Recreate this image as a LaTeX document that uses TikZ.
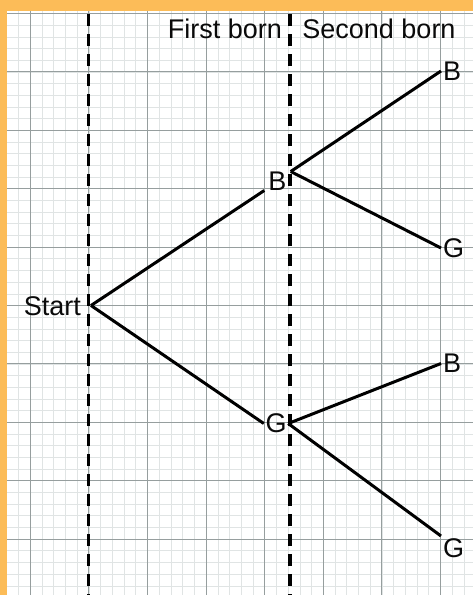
\documentclass[tikz,border=0pt]{standalone}
\usepackage{fontspec}
\setmainfont{Liberation Sans}
\usetikzlibrary{positioning}
\definecolor{frameorange}{RGB}{252,188,88}
\definecolor{gridmajor}{RGB}{150,158,158}
\definecolor{gridminor}{RGB}{224,228,228}
\definecolor{inkgray}{RGB}{10,10,10}

\begin{document}
\begin{tikzpicture}[x=1pt, y=-1pt, every node/.style={font=\fontsize{27}{31}\selectfont, text=inkgray}]
  \tikzset{
    lbl/.style={inner sep=2pt},
    branch/.style={line width=3pt},
    divider/.style={line width=3.2pt, dash pattern=on 12pt off 8pt},
    minorline/.style={gridminor, line width=0.6pt},
    majorline/.style={gridmajor, line width=0.9pt}
  }
  \useasboundingbox (0,0) rectangle (473,595);

  % Paper and orange frame
  \fill[frameorange] (0,0) rectangle (473,595);
  \fill[white] (7,11) rectangle (473,595);

  % Grid paper
  \foreach \i in {-1,...,37}
    \draw[minorline] ({30.3+11.72*\i},11) -- ({30.3+11.72*\i},595);
  \foreach \j in {0,...,49}
    \draw[minorline] (7,{13.5+11.68*\j}) -- (473,{13.5+11.68*\j});
  \foreach \i in {0,...,7}
    \draw[majorline] ({30.3+58.6*\i},11) -- ({30.3+58.6*\i},595);
  \foreach \j in {0,...,9}
    \draw[majorline] (7,{13.5+58.4*\j}) -- (473,{13.5+58.4*\j});

  % Column headings and dividers
  \node[anchor=base] (first) at (225,38) {First born};
  \node[anchor=base] (second) at (379,38) {Second born};
  \draw[divider] (88.5,14) -- (88.5,595);
  \draw[divider] (290,14) -- (290,595);

  % Tree
  \coordinate (root) at (91,305.5);
  \node[anchor=base east, inner sep=0pt] (start) at (81,315) {Start};

  \node[lbl, inner xsep=4pt, inner ysep=0pt] (b1) at (277.5,181) {B};
  \node[lbl, inner xsep=1.5pt] (g1) at (276,423.5) {G};

  \node[lbl, anchor=west] (bb) at (441,71) {B};
  \node[lbl, anchor=west] (bg) at (441,248) {G};
  \node[lbl, anchor=west] (gb) at (441,363.5) {B};
  \node[lbl, anchor=north west] (gg) at (441,536) {G};

  \draw[branch] (root) -- (b1.south west);
  \draw[branch] (root) -- (g1.west);
  \draw[branch] (b1.north east) -- (bb.west);
  \draw[branch] (b1.north east) -- (bg.west);
  \draw[branch] (g1.east) -- (gb.west);
  \draw[branch] (g1.east) -- (gg.north west);
\end{tikzpicture}
\end{document}
